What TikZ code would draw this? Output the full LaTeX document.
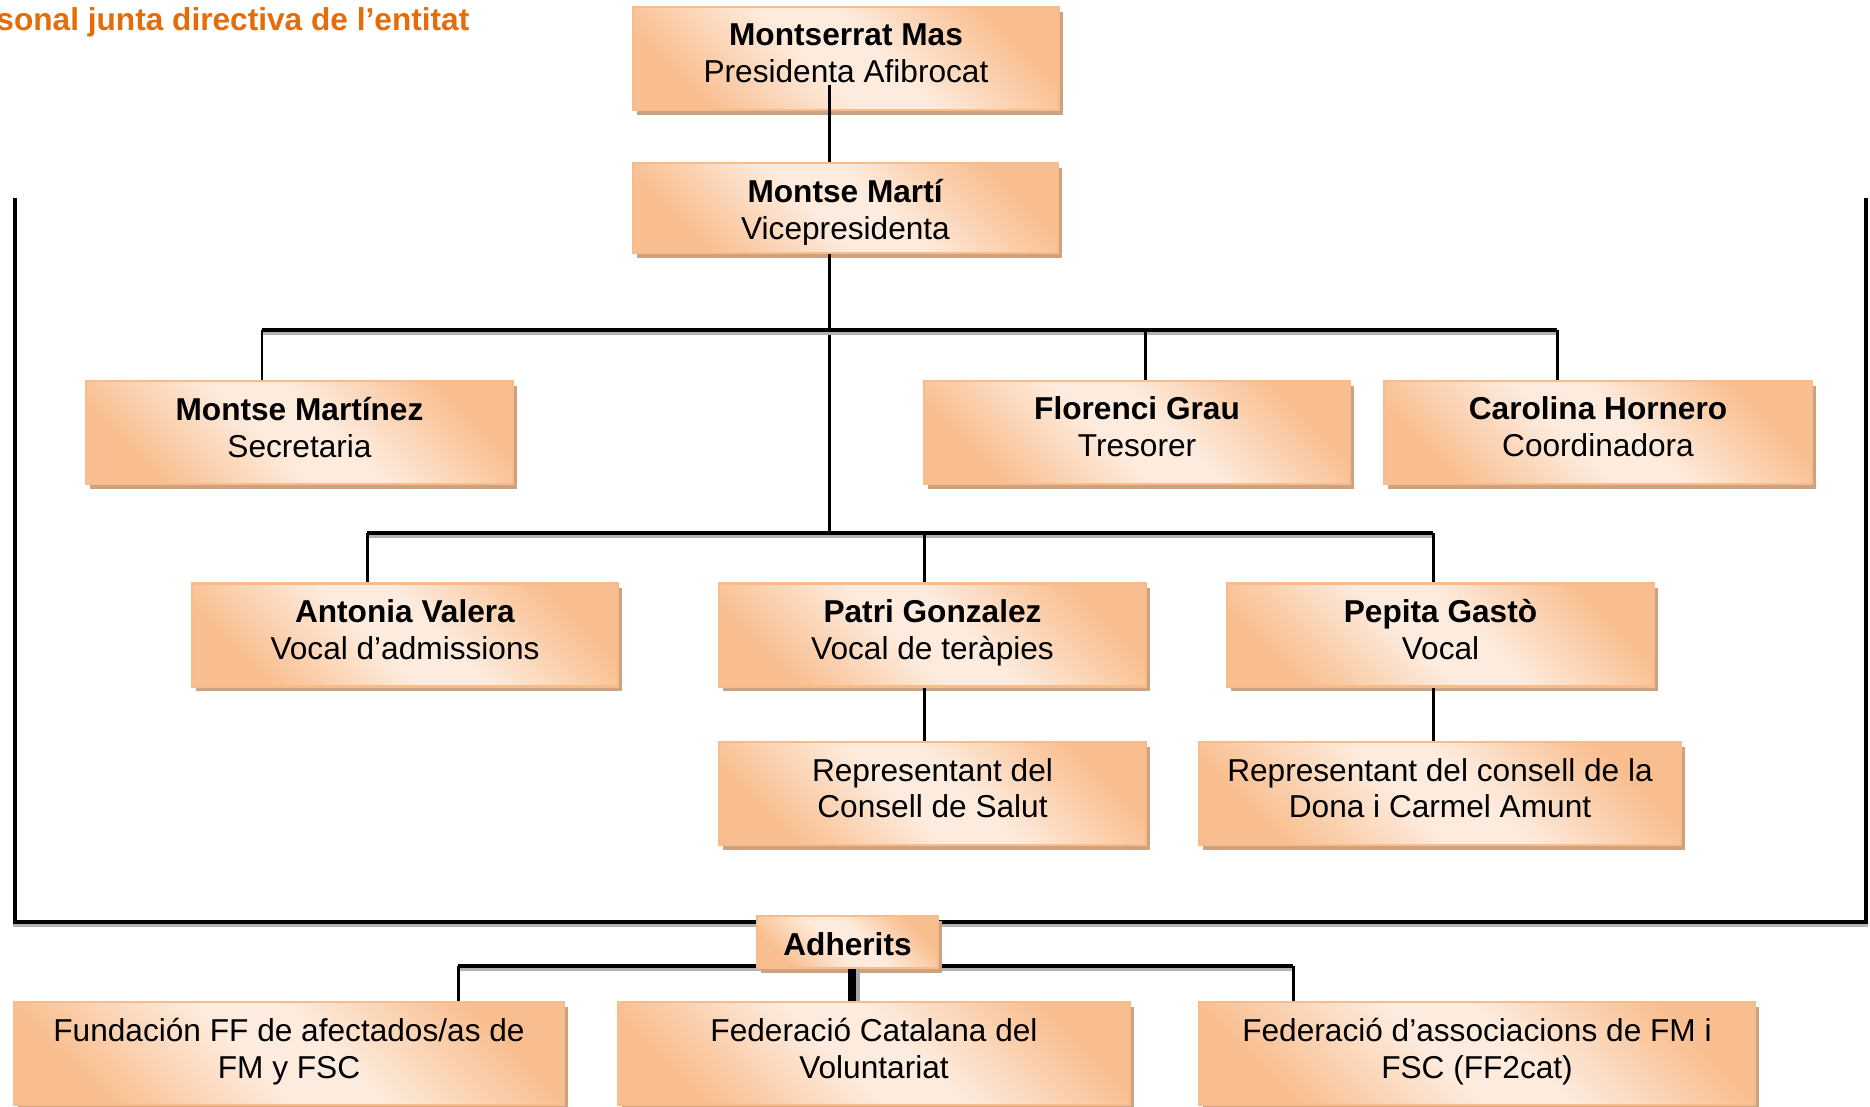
\documentclass[tikz,border=0pt]{standalone}
\usepackage{fontspec}
\setmainfont{Liberation Sans}
\usetikzlibrary{shadows}
\usepackage{xcolor}

\definecolor{boxorange}{HTML}{F9BE8F}
\definecolor{boxlight}{HTML}{FDEBDD}
\definecolor{boxedge}{HTML}{F7BC8A}
\definecolor{boxshadow}{HTML}{CDA281}
\definecolor{titleorange}{HTML}{E46C0A}

\pgfdeclarehorizontalshading{boxshade}{100bp}{color(0bp)=(boxorange); color(25bp)=(boxorange); color(45bp)=(boxlight); color(55bp)=(boxlight); color(75bp)=(boxorange); color(100bp)=(boxorange)}

\newcommand{\topstrut}{\rule{0pt}{8.7pt}}

\tikzset{
  plainbox/.style={rectangle, draw=boxedge, line width=0.7pt,
    shade, shading=boxshade, shading angle=45,
    drop shadow={shadow xshift=0.35mm, shadow yshift=-0.45mm, fill=boxshadow, opacity=1},
    minimum height=10.3mm, inner sep=0pt, align=center,
    font=\fontsize{9}{10.5}\selectfont},
  box/.style={plainbox, execute at begin node=\topstrut, execute at end node=\strut},
  boxtext/.style={inner sep=0pt, align=center, font=\fontsize{9}{10.5}\selectfont,
    execute at begin node=\topstrut, execute at end node=\strut},
  link/.style={line width=0.85pt},
  bar/.style={line width=0.95pt,
    preaction={draw=black!30, line width=0.95pt, transform canvas={yshift=-0.3mm}}},
  stem/.style={line width=2.3pt,
    preaction={draw=black!35, line width=2.3pt, transform canvas={xshift=0.35mm}}},
}

\begin{document}
\begin{tikzpicture}[x=0.1mm, y=-0.1mm]

\useasboundingbox (0,0) rectangle (1870,1106);

\node[anchor=base east, inner sep=0pt, text=titleorange, font=\bfseries\fontsize{9}{10.5}\selectfont] (title) at (470,30) {sonal junta directiva de l’entitat};

% board
\node[box, minimum width=42.6mm] (mas) at (846,58.5) {\textbf{Montserrat Mas}\\Presidenta Afibrocat};

\node[plainbox, minimum width=42.5mm, minimum height=9mm] (marti) at (845.5,208) {};
\begin{scope}
\clip (marti.north west) rectangle ([yshift=1mm]marti.south east);
\node[boxtext] (martitext) at (845.5,215) {\textbf{Montse Martí}\\Vicepresidenta};
\end{scope}

\node[box, minimum width=42.7mm] (martinez) at (299.5,432.5) {\textbf{Montse Martínez}\\Secretaria};
\node[box, minimum width=42.6mm] (grau) at (1137,432.5) {\textbf{Florenci Grau}\\Tresorer};
\node[box, minimum width=42.8mm] (hornero) at (1598,432.5) {\textbf{Carolina Hornero}\\Coordinadora};

\node[box, minimum width=42.6mm] (valera) at (405,635) {\textbf{Antonia Valera}\\Vocal d’admissions};
\node[box, minimum width=42.7mm] (gonzalez) at (932.5,635) {\textbf{Patri Gonzalez}\\Vocal de teràpies};
\node[box, minimum width=42.7mm] (gasto) at (1440.5,635) {\textbf{Pepita Gastò}\\Vocal};

\node[box, minimum width=42.7mm] (salut) at (932.5,793.5) {Representant del\\Consell de Salut};
\node[box, minimum width=48.2mm] (dona) at (1440,793.5) {Representant del consell de la\\Dona i Carmel Amunt};

% members
\node[box, minimum width=55mm] (fundacion) at (289,1053.5) {Fundación FF de afectados/as de\\FM y FSC};
\node[box, minimum width=51.2mm] (voluntariat) at (874,1053.5) {Federació Catalana del\\Voluntariat};
\node[box, minimum width=55.6mm] (ffcat) at (1477,1053.5) {Federació d’associacions de FM i\\FSC (FF2cat)};

% connectors
\coordinate (spine) at (829,85);
\coordinate (bar1l) at (262,330);
\coordinate (bar1g) at (1145,330);
\coordinate (bar1r) at (1557,330);
\coordinate (bar2l) at (367,533);
\coordinate (bar2m) at (924,533);
\coordinate (bar2r) at (1433,533);

\draw[link] (spine) -- (spine |- marti.north);
\draw[link] (spine |- marti.south) -- (spine |- bar2l);

\draw[bar] (bar1l) -- (bar1r);
\draw[link] (bar1l) -- (bar1l |- martinez.north);
\draw[link] (bar1g) -- (bar1g |- grau.north);
\draw[link] (bar1r) -- (bar1r |- hornero.north);

\draw[bar] (bar2l) -- (bar2r);
\draw[link] (bar2l) -- (bar2l |- valera.north);
\draw[link] (bar2m) -- (bar2m |- gonzalez.north);
\draw[link] (bar2r) -- (bar2r |- gasto.north);
\draw[link] (bar2m |- gonzalez.south) -- (bar2m |- salut.north);
\draw[link] (bar2r |- gasto.south) -- (bar2r |- dona.north);

% bracket round the board
\coordinate (frametl) at (15,198);
\coordinate (framebl) at (15,922);
\coordinate (framebr) at (1866,922);
\coordinate (frametr) at (1866,198);
\draw[bar] (frametl) -- (framebl) -- (framebr) -- (frametr);

\coordinate (bar3l) at (458,966);
\coordinate (bar3r) at (1293,966);
\draw[bar] (bar3l) -- (bar3r);
\draw[link] (bar3l) -- (bar3l |- fundacion.north);
\draw[link] (bar3r) -- (bar3r |- ffcat.north);

\node[plainbox, minimum width=18.1mm, minimum height=5.2mm, text height=7.8pt, text depth=0pt] (adherits) at (847.5,942) {\textbf{Adherits}};
\draw[stem] ([xshift=0.45mm]adherits.south) -- ([xshift=0.45mm]adherits.south |- voluntariat.north);

\end{tikzpicture}
\end{document}
